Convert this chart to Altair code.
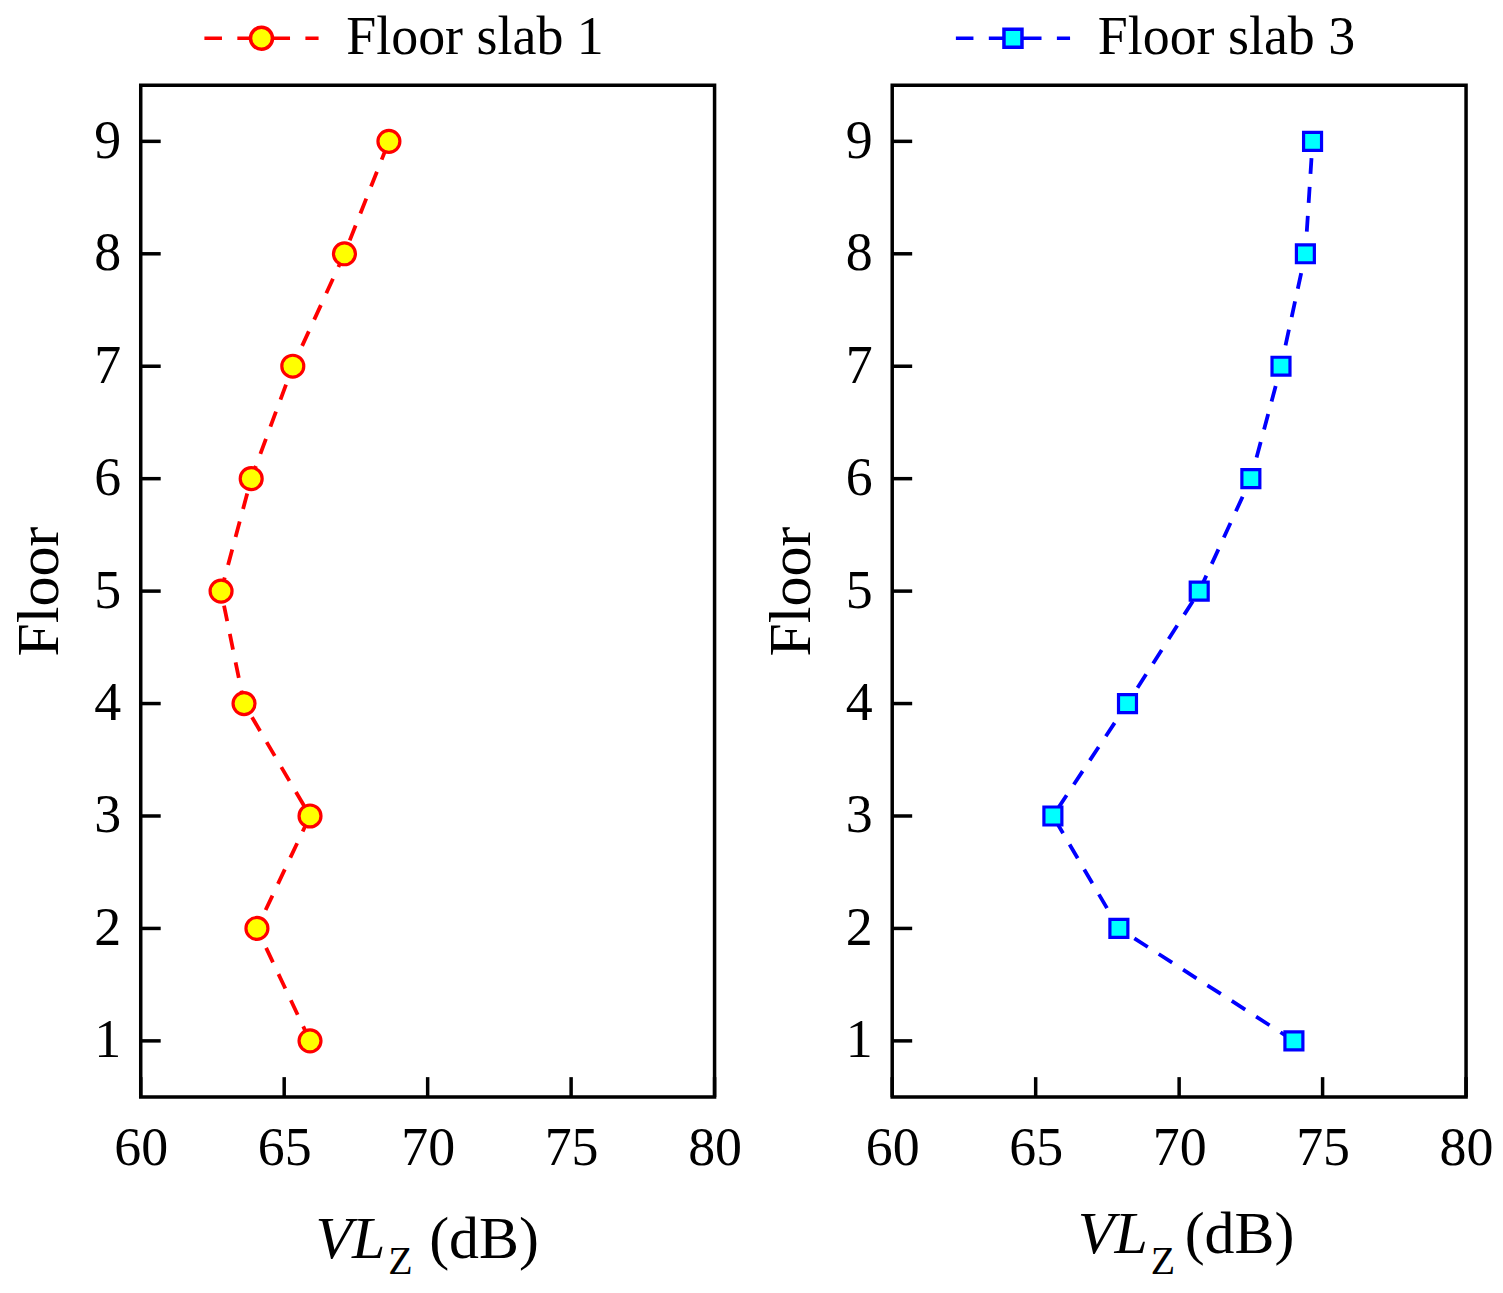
import altair as alt
import pandas as pd

# values
floors = [1, 2, 3, 4, 5, 6, 7, 8, 9]
slab1_vlz = [65.9, 64.05, 65.9, 63.6, 62.8, 63.85, 65.3, 67.1, 68.65]
slab3_vlz = [74.0, 67.9, 65.6, 68.2, 70.7, 72.5, 73.55, 74.4, 74.65]
x_ticks = [60, 65, 70, 75, 80]

FONT = "Liberation Serif, Times New Roman, Tinos, serif"
W, H = 575, 1014

# legend glyphs: dashed line with the marker in the middle (1 unit = 11 px)
dashes = "M-5.2,0H-3.6M-2.2,0H-1M1,0H2.6M4,0H5.2"
circle_path = dashes + ("M1,0C1,0.552,0.552,1,0,1C-0.552,1,-1,0.552,-1,0"
                        "C-1,-0.552,-0.552,-1,0,-1C0.552,-1,1,-0.552,1,0Z")
square_path = ("M-5.2,0H-3.6M-2.2,0H-0.82M0.82,0H2.6M4,0H5.2"
               "M-0.82,-0.82H0.82V0.82H-0.82Z")


def panel(values, name, line_color, fill_color, shape, size, legend_path, tpos):
    df = pd.DataFrame({"floor": floors, "vlz": values, "series": name})

    x = alt.X("vlz:Q",
              scale=alt.Scale(domain=[60, 80], nice=False, zero=False),
              axis=alt.Axis(values=x_ticks, title=None, ticks=False, tickSize=0,
                            domain=False, grid=False, labelFont=FONT,
                            labelFontSize=54, labelColor="black",
                            labelPadding=25, labelFlush=False))
    y = alt.Y("floor:Q",
              scale=alt.Scale(domain=[0.5, 9.5], nice=False, zero=False),
              axis=alt.Axis(values=floors, title="Floor", ticks=False, tickSize=0,
                            domain=False, grid=False, labelFont=FONT,
                            labelFontSize=54, labelColor="black",
                            labelPadding=20, titleFont=FONT, titleFontSize=60,
                            titleFontWeight="normal", titleColor="black",
                            titlePadding=23))

    base = alt.Chart(df)
    line = base.mark_line(color=line_color, strokeWidth=3.8,
                          strokeDash=[16, 13]).encode(x=x, y=y, order="floor:Q")
    pts = base.mark_point(shape=shape, size=size, filled=True, fill=fill_color,
                          strokeWidth=3.2, opacity=1).encode(
        x=x, y=y,
        stroke=alt.Stroke("series:N",
                          scale=alt.Scale(domain=[name], range=[line_color]),
                          legend=alt.Legend(
                              title=None, orient="none", legendX=94, legendY=-74,
                              padding=0, symbolType=legend_path, symbolSize=484,
                              symbolStrokeWidth=3.5, symbolFillColor=fill_color,
                              symbolStrokeColor=line_color, symbolOpacity=1,
                              labelFont=FONT, labelFontSize=54, labelColor="black",
                              labelOffset=58, labelLimit=0)))

    # inward tick marks
    yt = alt.Chart(pd.DataFrame({"floor": floors})).mark_rule(
        color="black", strokeWidth=3.5).encode(y=y, x=alt.value(0), x2=alt.value(20))
    xt = alt.Chart(pd.DataFrame({"vlz": x_ticks})).mark_rule(
        color="black", strokeWidth=3.5).encode(x=x, y=alt.value(H), y2=alt.value(H - 20))

    # x title: VL_Z (dB)
    vl_end, z_left, db_left, base_y = tpos
    t1 = alt.Chart(pd.DataFrame({"t": ["VL"]})).mark_text(
        font=FONT, fontSize=60, fontStyle="italic", align="right",
        baseline="alphabetic", color="black").encode(
        text="t:N", x=alt.value(vl_end), y=alt.value(base_y))
    t2 = alt.Chart(pd.DataFrame({"t": ["Z"]})).mark_text(
        font=FONT, fontSize=40, align="left", baseline="alphabetic",
        color="black").encode(text="t:N", x=alt.value(z_left), y=alt.value(1191))
    t3 = alt.Chart(pd.DataFrame({"t": ["(dB)"]})).mark_text(
        font=FONT, fontSize=60, align="left", baseline="alphabetic",
        color="black").encode(text="t:N", x=alt.value(db_left), y=alt.value(base_y))

    return alt.layer(xt, yt, line, pts, t1, t2, t3).properties(width=W, height=H)


left = panel(slab1_vlz, "Floor slab 1", "#ff0000", "#ffff00", "circle", 484,
             circle_path, (245, 248, 289, 1175))
right = panel(slab3_vlz, "Floor slab 3", "#0000ff", "#00ffff", "square", 324,
              square_path, (256, 259, 293, 1170))

chart = (alt.hconcat(left, right, spacing=16)
         .resolve_scale(stroke="independent")
         .properties(padding=0)
         .configure(background="white")
         .configure_view(stroke="black", strokeWidth=3.5))

chart.save("out.html", embed_options={"renderer": "svg", "actions": False})
